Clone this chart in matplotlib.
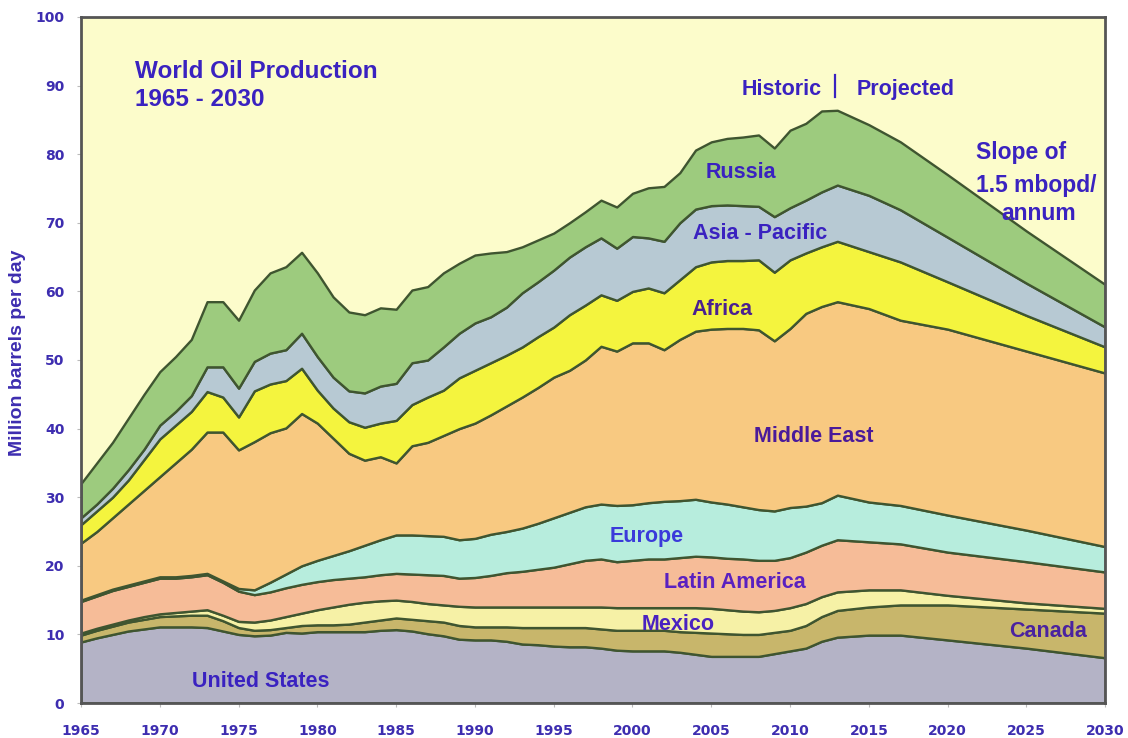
import numpy as np
import matplotlib
matplotlib.use("Agg")
import matplotlib.pyplot as plt

years = list(range(1965, 2014)) + [2015, 2017, 2020, 2025, 2030]

# Cumulative upper boundaries (million barrels per day)
us_top = [8.9, 9.5, 10.0, 10.5, 10.8, 11.1, 11.1, 11.1, 11.0, 10.5, 10.0, 9.8, 9.9, 10.3, 10.2,
          10.4, 10.4, 10.4, 10.4, 10.6, 10.7, 10.5, 10.1, 9.8, 9.3, 9.2, 9.2, 9.0, 8.6, 8.5,
          8.3, 8.2, 8.2, 8.0, 7.7, 7.6, 7.6, 7.6, 7.4, 7.1, 6.8, 6.8, 6.8, 6.8, 7.2, 7.6, 8.0,
          9.0, 9.6, 9.9, 9.9, 9.2, 8.0, 6.6]
canada_top = [9.9, 10.6, 11.2, 11.8, 12.2, 12.6, 12.7, 12.8, 12.8, 12.0, 11.0, 10.6, 10.7, 11.0, 11.3,
              11.4, 11.4, 11.5, 11.8, 12.1, 12.4, 12.2, 12.0, 11.8, 11.3, 11.1, 11.1, 11.1, 11.0, 11.0,
              11.0, 11.0, 11.0, 10.8, 10.6, 10.6, 10.6, 10.6, 10.4, 10.3, 10.2, 10.1, 10.0, 10.0, 10.3,
              10.6, 11.3, 12.6, 13.5, 14.0, 14.3, 14.3, 13.7, 13.1]
mexico_top = [10.2, 10.9, 11.5, 12.1, 12.6, 13.0, 13.2, 13.4, 13.6, 12.8, 11.9, 11.8, 12.1, 12.6, 13.1,
              13.6, 14.0, 14.4, 14.7, 14.9, 15.0, 14.8, 14.5, 14.3, 14.1, 14.0, 14.0, 14.0, 14.0, 14.0,
              14.0, 14.0, 14.0, 14.0, 13.9, 13.9, 13.9, 13.9, 13.9, 13.9, 13.8, 13.6, 13.4, 13.3, 13.5,
              13.9, 14.5, 15.5, 16.2, 16.5, 16.5, 15.7, 14.6, 13.8]
latam_top = [14.8, 15.6, 16.4, 17.0, 17.6, 18.2, 18.2, 18.4, 18.7, 17.6, 16.3, 15.8, 16.2, 16.8, 17.3,
             17.7, 18.0, 18.2, 18.4, 18.7, 18.9, 18.8, 18.7, 18.6, 18.2, 18.3, 18.6, 19.0, 19.2, 19.5,
             19.8, 20.3, 20.8, 21.0, 20.6, 20.8, 21.0, 21.0, 21.2, 21.4, 21.3, 21.1, 21.0, 20.8, 20.8,
             21.2, 22.0, 23.0, 23.8, 23.5, 23.2, 22.0, 20.6, 19.1]
europe_top = [15.0, 15.8, 16.6, 17.2, 17.8, 18.4, 18.4, 18.6, 18.9, 17.8, 16.7, 16.5, 17.6, 18.8, 20.0,
              20.8, 21.5, 22.2, 23.0, 23.8, 24.5, 24.5, 24.4, 24.3, 23.8, 24.0, 24.6, 25.0, 25.5, 26.2,
              27.0, 27.8, 28.6, 29.0, 28.8, 28.9, 29.2, 29.4, 29.5, 29.7, 29.3, 29.0, 28.6, 28.2, 28.0,
              28.5, 28.7, 29.2, 30.3, 29.3, 28.8, 27.4, 25.2, 22.8]
mideast_top = [23.3, 25.0, 27.0, 29.0, 31.0, 33.0, 35.0, 37.0, 39.5, 39.5, 36.9, 38.1, 39.4, 40.1, 42.2,
               40.8, 38.6, 36.4, 35.4, 35.9, 35.0, 37.5, 38.0, 39.0, 40.0, 40.8, 42.0, 43.3, 44.6, 46.0,
               47.5, 48.5, 50.0, 52.0, 51.3, 52.5, 52.5, 51.5, 53.0, 54.2, 54.5, 54.6, 54.6, 54.4, 52.8,
               54.6, 56.8, 57.8, 58.5, 57.5, 55.8, 54.5, 51.3, 48.1]
africa_top = [26.0, 28.0, 30.0, 32.5, 35.5, 38.5, 40.5, 42.5, 45.4, 44.6, 41.7, 45.5, 46.5, 47.0, 48.8,
              45.6, 43.0, 41.0, 40.2, 40.8, 41.2, 43.5, 44.6, 45.6, 47.4, 48.5, 49.6, 50.7, 51.9, 53.4,
              54.8, 56.6, 58.0, 59.5, 58.7, 60.0, 60.5, 59.8, 61.7, 63.6, 64.3, 64.5, 64.5, 64.6, 62.8,
              64.6, 65.6, 66.5, 67.3, 65.8, 64.3, 61.4, 56.5, 51.9]
asia_top = [27.0, 29.0, 31.3, 34.0, 37.0, 40.5, 42.5, 44.8, 49.0, 49.0, 45.9, 49.8, 51.0, 51.5, 53.9,
            50.5, 47.5, 45.5, 45.2, 46.2, 46.6, 49.6, 50.0, 51.9, 53.9, 55.4, 56.3, 57.7, 59.8, 61.4,
            63.1, 65.0, 66.5, 67.8, 66.3, 68.0, 67.8, 67.3, 70.0, 72.0, 72.5, 72.6, 72.5, 72.4, 70.9,
            72.2, 73.3, 74.5, 75.5, 74.0, 71.9, 67.9, 61.2, 54.8]
russia_top = [32.0, 35.0, 38.0, 41.5, 45.0, 48.3, 50.5, 53.0, 58.5, 58.5, 55.8, 60.2, 62.7, 63.6, 65.7,
              62.7, 59.2, 57.0, 56.6, 57.6, 57.4, 60.2, 60.7, 62.7, 64.1, 65.3, 65.6, 65.8, 66.5, 67.5,
              68.5, 70.0, 71.6, 73.3, 72.3, 74.3, 75.1, 75.3, 77.3, 80.6, 81.8, 82.3, 82.5, 82.8, 80.9,
              83.5, 84.5, 86.3, 86.4, 84.3, 81.8, 77.0, 68.8, 61.0]

regions = ["United States", "Canada", "Mexico", "Latin America", "Europe",
           "Middle East", "Africa", "Asia - Pacific", "Russia"]
colors = ["#B4B3C6", "#C8B66B", "#F6F1A6", "#F6BC98", "#B7EDDD",
          "#F8C981", "#F4F43E", "#B7C9D3", "#9DCB7E"]

tops = np.array([us_top, canada_top, mexico_top, latam_top, europe_top,
                 mideast_top, africa_top, asia_top, russia_top])
production = np.diff(np.vstack([np.zeros(len(years)), tops]), axis=0)

fig = plt.figure(figsize=(11.28, 7.38), dpi=100)
ax = fig.add_axes([0.0718, 0.0474, 0.908, 0.9296])
ax.set_facecolor("#FCFCCB")

ax.stackplot(years, production, colors=colors, edgecolor="#3F5530", linewidth=1.7)

ax.set_xlim(1965, 2030)
ax.set_ylim(0, 100)
ax.set_xticks(range(1965, 2031, 5))
ax.set_yticks(range(0, 101, 10))

tick_color = "#3D2DB0"
for lab in ax.get_xticklabels() + ax.get_yticklabels():
    lab.set_fontweight("bold")
    lab.set_color(tick_color)
    lab.set_fontsize(10)
ax.tick_params(axis="both", length=3, color="#BBBBBB")
ax.tick_params(axis="x", pad=12)
ax.tick_params(axis="y", pad=9)

for s in ax.spines.values():
    s.set_color("#555555")
    s.set_linewidth(2)

ax.set_ylabel("Million barrels per day", fontsize=14, fontweight="bold",
              color="#3D2DB0", family="Liberation Sans")
ax.yaxis.set_label_coords(-0.054, 0.51)

txt = dict(fontweight="bold", family="Liberation Sans", color="#3A22C0")
ax.text(1968.4, 93.8, "World Oil Production\n1965 - 2030", fontsize=17.5,
        va="top", ha="left", linespacing=1.33, **txt)
ax.text(2012.0, 89.5, "Historic", fontsize=15.5, ha="right", va="center", **txt)
ax.plot([2012.85, 2012.85], [88.3, 91.6], color="#3A22C0", linewidth=1.6)
ax.text(2014.2, 89.5, "Projected", fontsize=15.5, ha="left", va="center", **txt)
ax.text(2021.8, 80.3, "Slope of", fontsize=16.5, ha="left", va="center", **txt)
ax.text(2021.8, 75.5, "1.5 mbopd/", fontsize=16.5, ha="left", va="center", **txt)
ax.text(2023.4, 71.3, "annum", fontsize=16.5, ha="left", va="center", **txt)

lab = dict(fontweight="bold", family="Liberation Sans", fontsize=15.5,
           ha="center", va="center")
ax.text(2006.9, 77.4, "Russia", color="#3A22C0", **lab)
ax.text(2008.1, 68.4, "Asia - Pacific", color="#3A22C0", **lab)
ax.text(2005.7, 57.3, "Africa", color="#4A2090", **lab)
ax.text(2011.5, 38.9, "Middle East", color="#4A1A9A", **lab)
ax.text(2000.9, 24.3, "Europe", color="#3A3ADA", **lab)
ax.text(2006.5, 17.5, "Latin America", color="#5A20C0", **lab)
ax.text(2002.9, 11.4, "Mexico", color="#4A22C0", **lab)
ax.text(2026.4, 10.4, "Canada", color="#4A22A0", **lab)
ax.text(1976.4, 3.2, "United States", color="#3A22C0", **lab)

fig.savefig("out.png", dpi=100, facecolor="white")
